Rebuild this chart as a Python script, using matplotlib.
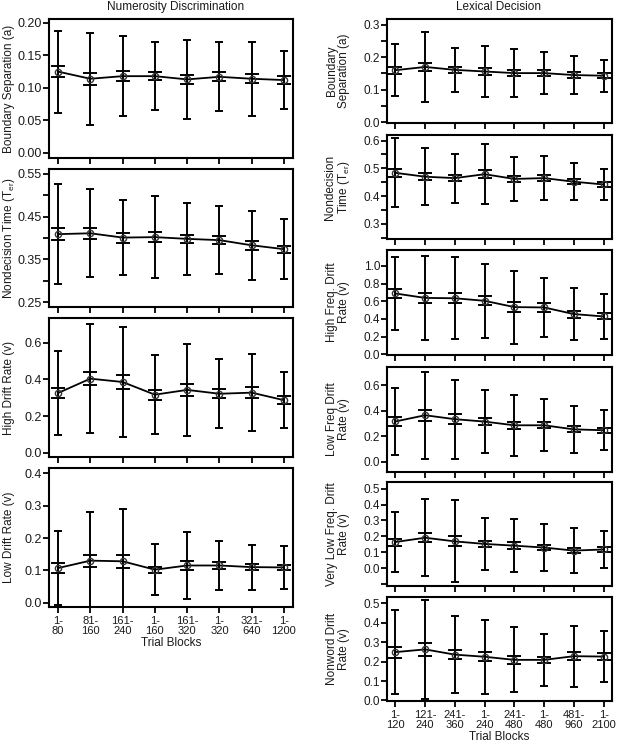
import numpy as np
import matplotlib.pyplot as plt
from matplotlib.ticker import FormatStrFormatter

plt.rcParams['font.family'] = ['Liberation Sans', 'DejaVu Sans']
plt.rcParams['mathtext.fontset'] = 'custom'
plt.rcParams['mathtext.rm'] = 'Liberation Sans'

# ---- data: mean, inner bar (se) and outer bar (sd) half-widths ----
num_blocks = ["1-\n80", "81-\n160", "161-\n240", "1-\n160", "161-\n320", "1-\n320", "321-\n640", "1-\n1200"]
lex_blocks = ["1-\n120", "121-\n240", "241-\n360", "1-\n240", "241-\n480", "1-\n480", "481-\n960", "1-\n2100"]

# Numerosity discrimination
num_a_mean = [0.125, 0.114, 0.118, 0.118, 0.113, 0.117, 0.114, 0.112]
num_a_se = [0.008, 0.009, 0.008, 0.0065, 0.0075, 0.007, 0.007, 0.0055]
num_a_sd = [0.063, 0.071, 0.062, 0.052, 0.061, 0.053, 0.057, 0.045]

num_ter_mean = [0.409, 0.411, 0.401, 0.402, 0.398, 0.395, 0.383, 0.374]
num_ter_se = [0.014, 0.013, 0.0115, 0.012, 0.010, 0.0095, 0.010, 0.0085]
num_ter_sd = [0.116, 0.103, 0.087, 0.095, 0.084, 0.079, 0.081, 0.070]

num_high_mean = [0.326, 0.404, 0.386, 0.317, 0.343, 0.322, 0.328, 0.287]
num_high_se = [0.029, 0.037, 0.039, 0.027, 0.032, 0.025, 0.028, 0.021]
num_high_sd = [0.228, 0.295, 0.300, 0.216, 0.252, 0.187, 0.208, 0.153]

num_low_mean = [0.107, 0.130, 0.128, 0.102, 0.115, 0.115, 0.110, 0.109]
num_low_se = [0.015, 0.019, 0.020, 0.0095, 0.013, 0.0105, 0.010, 0.0085]
num_low_sd = [0.115, 0.150, 0.162, 0.079, 0.105, 0.075, 0.070, 0.066]

# Lexical decision
lex_a_mean = [0.160, 0.170, 0.161, 0.156, 0.151, 0.151, 0.145, 0.143]
lex_a_se = [0.011, 0.013, 0.009, 0.010, 0.010, 0.009, 0.009, 0.0075]
lex_a_sd = [0.081, 0.107, 0.069, 0.079, 0.073, 0.065, 0.059, 0.049]

lex_ter_mean = [0.484, 0.470, 0.465, 0.479, 0.462, 0.465, 0.452, 0.442]
lex_ter_se = [0.015, 0.013, 0.011, 0.014, 0.011, 0.011, 0.010, 0.009]
lex_ter_sd = [0.124, 0.103, 0.088, 0.108, 0.079, 0.079, 0.066, 0.057]

lex_hf_mean = [0.688, 0.638, 0.634, 0.605, 0.534, 0.530, 0.455, 0.428]
lex_hf_se = [0.055, 0.060, 0.058, 0.052, 0.057, 0.050, 0.040, 0.034]
lex_hf_sd = [0.415, 0.478, 0.463, 0.420, 0.412, 0.333, 0.295, 0.258]

lex_lf_mean = [0.316, 0.365, 0.334, 0.315, 0.286, 0.286, 0.254, 0.247]
lex_lf_se = [0.034, 0.042, 0.039, 0.030, 0.028, 0.022, 0.023, 0.020]
lex_lf_sd = [0.261, 0.342, 0.310, 0.247, 0.239, 0.203, 0.186, 0.158]

lex_vlf_mean = [0.164, 0.191, 0.168, 0.152, 0.141, 0.129, 0.110, 0.117]
lex_vlf_se = [0.022, 0.030, 0.032, 0.020, 0.020, 0.017, 0.016, 0.014]
lex_vlf_sd = [0.190, 0.243, 0.258, 0.164, 0.168, 0.148, 0.142, 0.115]

lex_nw_mean = [0.249, 0.263, 0.236, 0.225, 0.209, 0.209, 0.228, 0.226]
lex_nw_se = [0.028, 0.032, 0.025, 0.023, 0.020, 0.017, 0.020, 0.017]
lex_nw_sd = [0.215, 0.254, 0.197, 0.192, 0.168, 0.133, 0.158, 0.131]

W, H = 621, 750
fig = plt.figure(figsize=(W / 100, H / 100), dpi=100)
txt = '#1a1a1a'


def make_ax(x0, x1, top, bottom):
    return fig.add_axes([x0 / W, 1 - bottom / H, (x1 - x0) / W, (bottom - top) / H])


def panel(ax, blocks, mean, se, sd, ylabel, ylim, major, minor, fmt, ylab_x, show_x, ytick_fs):
    x = np.arange(len(blocks))
    # outer (narrow caps) and inner (wide caps) error bars
    ax.errorbar(x, mean, yerr=sd, fmt='none', ecolor='k', elinewidth=1.4,
                capsize=2.7, capthick=1.4, zorder=2)
    ax.errorbar(x, mean, yerr=se, fmt='none', ecolor='k', elinewidth=1.4,
                capsize=5.0, capthick=1.4, zorder=3)
    ax.plot(x, mean, color='k', lw=1.3, marker='o', ms=4.5, mfc='none',
            mec='#333333', mew=1.0, zorder=4)
    ax.set_xlim(-0.28, len(blocks) - 1 + 0.28)
    ax.set_ylim(*ylim)
    ax.set_yticks(major)
    ax.set_yticks(minor, minor=True)
    ax.yaxis.set_major_formatter(FormatStrFormatter(fmt))
    ax.set_xticks(x)
    if show_x:
        ax.set_xticklabels(blocks, fontsize=8, color=txt, linespacing=1.0)
        ax.set_xlabel('Trial Blocks', fontsize=8.5, color=txt, labelpad=1)
    else:
        ax.set_xticklabels([])
    ax.tick_params(axis='x', direction='out', length=4.5, width=1.3, pad=2)
    ax.tick_params(axis='y', which='both', direction='out', length=4.5, width=1.3,
                   pad=0.5, labelsize=ytick_fs, labelcolor=txt)
    for s in ax.spines.values():
        s.set_linewidth(1.5)
    ax.set_ylabel(ylabel, fontsize=8.5, color=txt, linespacing=1.0, va='center')
    ax.yaxis.set_label_coords(ylab_x, 0.5)


# left column: numerosity discrimination
lx0, lx1 = 49, 293
left_rows = [(19, 158), (169, 307), (318, 457), (468, 607)]
left = [
    (num_a_mean, num_a_se, num_a_sd, 'Boundary Separation (a)', (-0.008, 0.206),
     [0, 0.05, 0.10, 0.15, 0.20], [], '%.2f'),
    (num_ter_mean, num_ter_se, num_ter_sd, r'Nondecision Time (T$\mathregular{_{er}}$)', (0.239, 0.561),
     [0.25, 0.35, 0.45, 0.55], [0.30, 0.40, 0.50], '%.2f'),
    (num_high_mean, num_high_se, num_high_sd, 'High Drift Rate (v)', (-0.022, 0.734),
     [0, 0.2, 0.4, 0.6], [], '%.1f'),
    (num_low_mean, num_low_se, num_low_sd, 'Low Drift Rate (v)', (-0.0136, 0.417),
     [0, 0.1, 0.2, 0.3, 0.4], [], '%.1f'),
]
for i, ((t, b), p) in enumerate(zip(left_rows, left)):
    ax = make_ax(lx0, lx1, t, b)
    panel(ax, num_blocks, *p, ylab_x=(9 - lx0) / (lx1 - lx0),
          show_x=(i == len(left) - 1), ytick_fs=9)

# right column: lexical decision
rx0, rx1 = 387, 612
right_rows = [(19, 123), (135, 239), (250, 355), (367, 472), (482, 586), (597, 701)]
right = [
    (lex_a_mean, lex_a_se, lex_a_sd, 'Boundary\nSeparation (a)', (-0.003, 0.318),
     [0, 0.1, 0.2, 0.3], [0.05, 0.15, 0.25], '%.1f'),
    (lex_ter_mean, lex_ter_se, lex_ter_sd, 'Nondecision\n' + r'Time (T$\mathregular{_{er}}$)', (0.246, 0.620),
     [0.3, 0.4, 0.5, 0.6], [0.25, 0.35, 0.45, 0.55], '%.1f'),
    (lex_hf_mean, lex_hf_se, lex_hf_sd, 'High Freq. Drift\nRate (v)', (-0.008, 1.18),
     [0, 0.2, 0.4, 0.6, 0.8, 1.0], [], '%.1f'),
    (lex_lf_mean, lex_lf_se, lex_lf_sd, 'Low Freq Drift\nRate (v)', (-0.081, 0.744),
     [0, 0.2, 0.4, 0.6], [], '%.1f'),
    (lex_vlf_mean, lex_vlf_se, lex_vlf_sd, 'Very Low Freq. Drift\nRate (v)', (-0.113, 0.542),
     [0, 0.1, 0.2, 0.3, 0.4, 0.5], [-0.1], '%.1f'),
    (lex_nw_mean, lex_nw_se, lex_nw_sd, 'Nonword Drift\nRate (v)', (-0.003, 0.533),
     [0, 0.1, 0.2, 0.3, 0.4, 0.5], [], '%.1f'),
]
for i, ((t, b), p) in enumerate(zip(right_rows, right)):
    ax = make_ax(rx0, rx1, t, b)
    panel(ax, lex_blocks, *p, ylab_x=(338 - rx0) / (rx1 - rx0),
          show_x=(i == len(right) - 1), ytick_fs=8.5)

fig.text(176 / W, 1 - 7 / H, 'Numerosity Discrimination', ha='center', va='center',
         fontsize=8.5, color=txt)
fig.text(498 / W, 1 - 7 / H, 'Lexical Decision', ha='center', va='center',
         fontsize=8.5, color=txt)

fig.savefig('out.png', dpi=100, facecolor='white')
